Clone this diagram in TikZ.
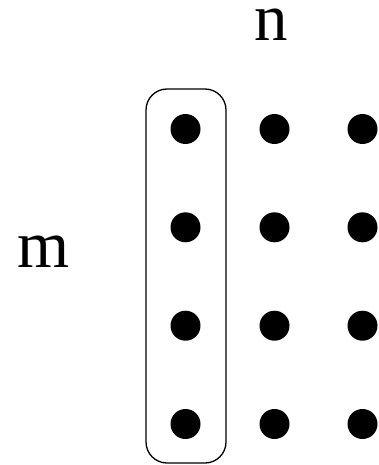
\documentclass[tikz,border=0pt]{standalone}
\usepackage{fontspec}
\setmainfont{Liberation Serif}
\begin{document}
\begin{tikzpicture}[x=1pt,y=-1pt,
  dot/.style={circle,fill=black,inner sep=0pt,minimum size=30pt},
  lbl/.style={font=\fontsize{67}{80}\selectfont,inner sep=0pt,anchor=base},
  group/.style={draw=black,line width=1.3pt,rounded corners=21pt}]
\useasboundingbox (0,0) rectangle (379,465);
\foreach \c/\x in {1/185.5,2/274.5,3/362.5}{
  \foreach \r/\y in {1/129,2/227.3,3/325.7,4/424}{
    \node[dot] (d\r\c) at (\x,\y) {};
  }
}
\node[lbl] (n) at (271.5,40.5) {n};
\node[lbl] (m) at (44,267) {m};
\draw[group] (146,89) rectangle (226,463);
\end{tikzpicture}
\end{document}
